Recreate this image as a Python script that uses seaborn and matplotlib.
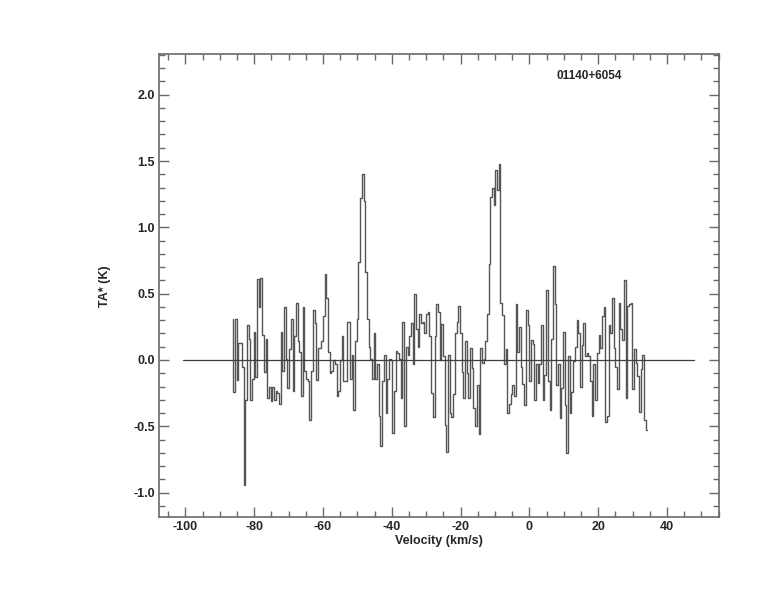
import numpy as np
import pandas as pd
import matplotlib
matplotlib.use("Agg")
import matplotlib.pyplot as plt
import seaborn as sns
from matplotlib.ticker import MultipleLocator

# spectrum: antenna temperature per channel (K)
ta = [
    0.31, -0.24, 0.31, -0.15, 0.13, 0.13, -0.05, -0.94, -0.30, 0.26,
    0.16, -0.30, -0.14, 0.21, -0.13, 0.61, 0.40, 0.62, 0.19, -0.09,
    0.16, -0.29, -0.20, -0.31, -0.20, -0.30, -0.23, -0.25, -0.33, 0.21,
    -0.08, 0.40, 0.01, -0.21, 0.08, 0.31, -0.23, 0.18,
    0.43, 0.14, 0.06, -0.27, 0.40, -0.08, -0.14, -0.16, -0.45, -0.08,
    0.38, 0.28, -0.15, 0.09, 0.09, 0.14, 0.33, 0.65, 0.47, 0.06,
    -0.10, -0.08, 0.00, -0.03, -0.27, -0.23, 0.00, 0.18, -0.16, -0.16,
    0.29, 0.29, -0.14, 0.04, -0.38, 0.14, 0.31, 0.74, 1.22, 1.40,
    1.20, 0.66, 0.31,
    0.10, 0.01, -0.14, 0.20, -0.14, -0.03, -0.42, -0.65, -0.16, 0.04,
    -0.40, -0.14, 0.01, 0.00, -0.55, -0.23, 0.07, 0.05, 0.01, -0.29,
    0.29, -0.50, 0.10, 0.04, 0.18, 0.28, -0.03, 0.50, 0.23, 0.10,
    0.35, 0.28, 0.29, 0.20, 0.35, 0.36, 0.18, -0.25, -0.43, 0.18,
    0.42, 0.36, 0.00, 0.27, 0.03, -0.49, -0.69, 0.04, -0.40, -0.43,
    -0.26, 0.20, 0.29, 0.41, 0.20, -0.09, -0.29, 0.14, -0.10, -0.29,
    0.09, -0.06, -0.36, -0.50, -0.19, -0.56, 0.09, -0.02, 0.01, 0.14,
    0.35, 0.72, 1.23, 1.30, 1.17, 1.43, 1.28, 1.48, 0.43, 0.34,
    -0.03,
    0.08, -0.40, -0.33, -0.26, -0.19, -0.27, 0.42, 0.06, 0.25, -0.05,
    -0.18, -0.34, 0.38, 0.26, -0.16, 0.15, 0.12, -0.30, -0.03, -0.17,
    -0.03, 0.26, -0.30, -0.11, 0.53, -0.16, -0.38, 0.16, 0.71, 0.42,
    -0.19, -0.03, -0.44, -0.21, 0.21, -0.34, -0.70, 0.03, -0.40, -0.24,
    -0.01,
    0.10, 0.30, 0.20, -0.20, 0.11, 0.28, 0.03, 0.05, 0.03, -0.16,
    -0.42, -0.03, -0.30, 0.05, 0.19, 0.09, 0.33, 0.40, -0.47, -0.42,
    0.26, 0.20, 0.47, 0.09, -0.05, -0.22, 0.43, 0.23, 0.15, 0.60,
    -0.29, 0.41, 0.42, 0.43, -0.22, 0.08, -0.02, -0.12, -0.39, -0.07,
    0.04, -0.45, -0.53,
]
v_first = -86.3   # centre of first channel (km/s)
v_last = 34.1     # centre of last channel (km/s)
source = "01140+6054"
baseline_v = [-100.7, 47.8]
baseline_t = [0.0, 0.0]

vel = np.linspace(v_first, v_last, len(ta))
df = pd.DataFrame({"vel": vel, "ta": ta})

sns.set_style("ticks")
plt.rcParams["font.family"] = ["Liberation Sans", "DejaVu Sans"]
plt.rcParams["font.weight"] = "bold"

fig = plt.figure(figsize=(7.74, 6.12), dpi=100)
ax = fig.add_axes([0.2058, 0.1547, 0.7235, 0.7565])

grey = "#6a6a6a"
sns.lineplot(data=df, x="vel", y="ta", estimator=None, sort=False,
             drawstyle="steps-mid", color="#555555", lw=1.0, ax=ax)
ax.plot(baseline_v, baseline_t, color="#404040", lw=0.9)

ax.set_xlim(-107.6, 55.2)
ax.set_ylim(-1.186, 2.304)
ax.xaxis.set_major_locator(MultipleLocator(20))
ax.xaxis.set_minor_locator(MultipleLocator(5))
ax.yaxis.set_major_locator(MultipleLocator(0.5))
ax.yaxis.set_minor_locator(MultipleLocator(0.1))
ax.yaxis.set_major_formatter(matplotlib.ticker.FormatStrFormatter("%.1f"))
ax.xaxis.set_major_formatter(matplotlib.ticker.FormatStrFormatter("%d"))

ax.tick_params(which="both", direction="in", top=True, right=True,
               color=grey, width=1.0, labelsize=9, pad=3)
ax.tick_params(which="major", length=7.2)
ax.tick_params(which="minor", length=4.3)
for s in ax.spines.values():
    s.set_color(grey)
    s.set_linewidth(1.2)

ax.set_xlabel("Velocity (km/s)", fontsize=9, fontweight="bold", labelpad=1)
ax.set_ylabel("TA* (K)", fontsize=9, fontweight="bold", labelpad=16)
ax.text(0.71, 0.953, source, transform=ax.transAxes, fontsize=8.5,
        fontweight="bold", va="center", ha="left")

fig.savefig("out.png", dpi=100)
